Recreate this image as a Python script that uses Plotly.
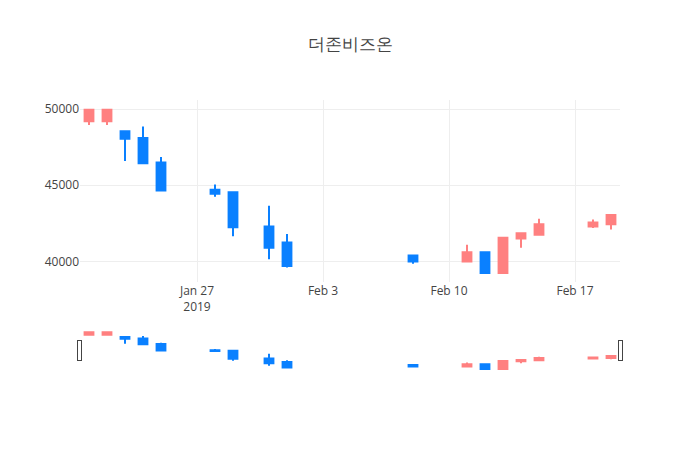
import plotly.graph_objects as go

dates = ["2019-01-21", "2019-01-22", "2019-01-23", "2019-01-24", "2019-01-25",
         "2019-01-28", "2019-01-29", "2019-01-31", "2019-02-01",
         "2019-02-08", "2019-02-11", "2019-02-12", "2019-02-13", "2019-02-14",
         "2019-02-15", "2019-02-18", "2019-02-19"]
open_ = [49200, 49200, 48550, 48100, 46500,
         44700, 44550, 42300, 41250,
         40400, 40000, 40600, 39250, 41500,
         41750, 42300, 42450]
high = [50000, 50000, 48550, 48850, 46850,
        45050, 44550, 43650, 41800,
        40450, 41100, 40600, 41600, 41850,
        42800, 42750, 43050]
low = [48950, 48950, 46600, 46400, 44600,
       44250, 41650, 40150, 39600,
       39850, 40000, 39250, 39250, 40900,
       41750, 42200, 42100]
close = [49950, 49950, 48050, 46450, 44650,
         44450, 42250, 40900, 39700,
         40000, 40600, 39250, 41550, 41850,
         42450, 42550, 43050]

inc_color = "#FF8080"
dec_color = "#0A80FF"

fig = go.Figure(go.Candlestick(
    x=dates, open=open_, high=high, low=low, close=close,
    increasing=dict(line=dict(color=inc_color), fillcolor=inc_color),
    decreasing=dict(line=dict(color=dec_color), fillcolor=dec_color),
))
fig.update_layout(
    title=dict(text="더존비즈온", x=0.5, xanchor="center"),
    width=700, height=450,
    template="none",
    showlegend=False,
    yaxis=dict(tickformat="d"),
)
fig.write_html("out.html")
